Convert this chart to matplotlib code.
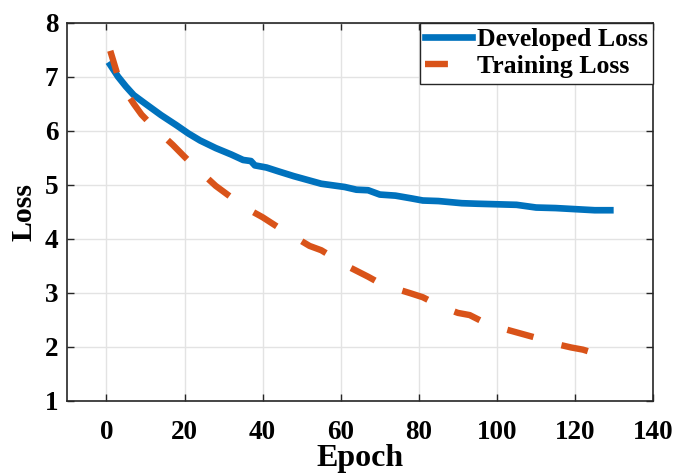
import matplotlib
matplotlib.use("Agg")
import matplotlib.pyplot as plt

dev_epoch = [1, 3, 5, 7, 10, 14, 18, 21, 24, 28, 32, 35, 37, 38, 41, 44, 48, 52, 55, 58,
             61, 64, 67, 70, 74, 78, 81, 85, 88, 91, 95, 100, 105, 110, 115, 120, 125, 129]
dev_loss = [7.22, 7.0, 6.82, 6.66, 6.5, 6.29, 6.1, 5.95, 5.82, 5.68, 5.56, 5.46, 5.44, 5.36,
            5.32, 5.25, 5.16, 5.08, 5.02, 4.99, 4.96, 4.91, 4.90, 4.82, 4.80, 4.75, 4.71,
            4.70, 4.68, 4.66, 4.65, 4.64, 4.63, 4.58, 4.57, 4.55, 4.53, 4.53]

train_epoch = [1, 3, 5, 7, 9, 11, 14, 17, 20, 22, 25, 28, 31, 34, 37, 40, 43, 46, 49, 52,
               55, 58, 61, 64, 67, 70, 74, 78, 81, 84, 87, 90, 93, 96, 100, 104, 108, 112,
               116, 119, 122, 126]
train_loss = [7.48, 7.0, 6.72, 6.5, 6.3, 6.15, 5.94, 5.74, 5.52, 5.38, 5.18, 4.98, 4.82,
              4.66, 4.52, 4.40, 4.26, 4.12, 4.0, 3.87, 3.79, 3.66, 3.52, 3.41, 3.30, 3.18,
              3.08, 2.99, 2.92, 2.81, 2.71, 2.63, 2.59, 2.48, 2.37, 2.29, 2.21, 2.13, 2.04,
              1.99, 1.95, 1.86]

x_ticks = [0, 20, 40, 60, 80, 100, 120, 140]
y_ticks = [1, 2, 3, 4, 5, 6, 7, 8]

plt.rcParams['font.family'] = ['Liberation Serif', 'DejaVu Serif']
plt.rcParams['font.weight'] = 'bold'
plt.rcParams['lines.scale_dashes'] = False

fig = plt.figure(figsize=(6.76, 4.75), dpi=100)
ax = fig.add_axes([67.3 / 676, (475 - 401) / 475, (653.3 - 67.3) / 676, (401 - 22.7) / 475])

ax.plot(dev_epoch, dev_loss, color='#0072BD', lw=4.8, label='Developed Loss',
        solid_joinstyle='round', zorder=3)
ax.plot(train_epoch, train_loss, color='#D95319', lw=4.6, label='Training Loss',
        linestyle=(3, (19.5, 21)), dash_capstyle='butt', zorder=3)

ax.set_xlim(-10, 140)
ax.set_ylim(1, 8)
ax.set_xticks(x_ticks)
ax.set_yticks(y_ticks)
ax.grid(True, color='#e3e3e3', lw=1.0)
ax.set_axisbelow(True)
for s in ax.spines.values():
    s.set_color('#262626')
    s.set_linewidth(1.2)
ax.tick_params(direction='in', length=5, width=1.0, color='#262626',
               top=True, right=True, labelsize=19.5)
ax.tick_params(axis='x', pad=14)
ax.tick_params(axis='y', pad=6.5)
for lab in ax.get_xticklabels() + ax.get_yticklabels():
    lab.set_fontweight('bold')

ax.set_xlabel('Epoch', fontsize=23, fontweight='bold', labelpad=-1)
ax.set_ylabel('Loss', fontsize=21.5, fontweight='bold', labelpad=5)

leg = ax.legend(loc='upper right', frameon=True, fancybox=False,
                handlelength=1.8, handletextpad=0.2, borderpad=0.22, labelspacing=0.15,
                borderaxespad=0.0, prop={'weight': 'bold', 'size': 18.5})
leg.get_frame().set_edgecolor('#262626')
leg.get_frame().set_linewidth(1.0)
leg.get_frame().set_alpha(1)

fig.savefig('out.png', dpi=100)
